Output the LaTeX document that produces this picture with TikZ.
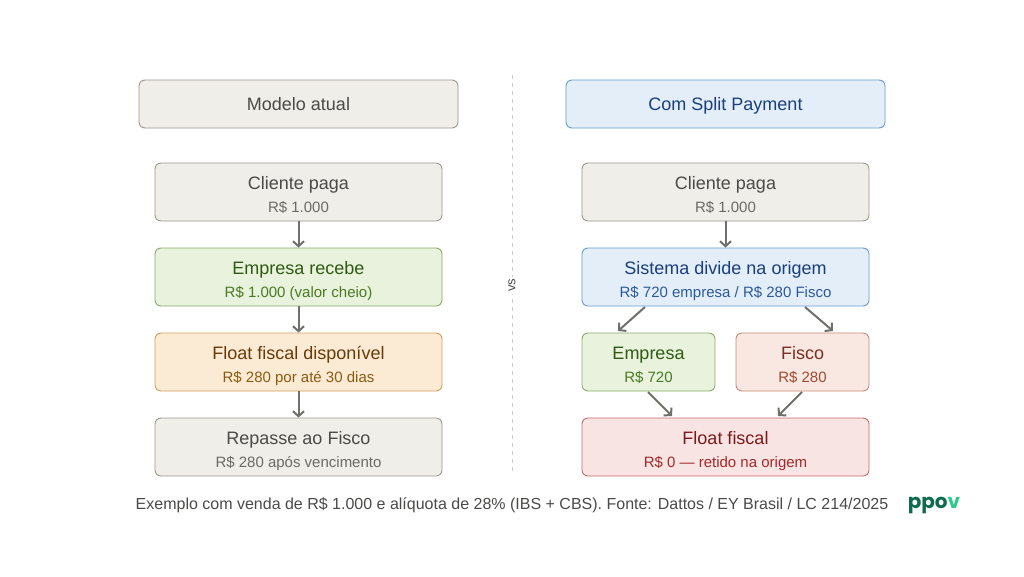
\documentclass[tikz,border=0pt]{standalone}
\usepackage{fontspec}
\usetikzlibrary{arrows.meta}
\setmainfont{Liberation Sans}
\newfontfamily\logofont{Poppins}
\definecolor{gfill}{HTML}{F0EEE8}\definecolor{gdraw}{HTML}{9A9890}\definecolor{gtext}{HTML}{4A4A48}\definecolor{gsub}{HTML}{6A6A66}
\definecolor{grfill}{HTML}{E8F2DC}\definecolor{grdraw}{HTML}{8AAA6A}\definecolor{grtext}{HTML}{2F5A12}\definecolor{grsub}{HTML}{4A7A22}
\definecolor{ofill}{HTML}{FBEBD5}\definecolor{odraw}{HTML}{D0A060}\definecolor{otext}{HTML}{6A3A06}\definecolor{osub}{HTML}{8A5A12}
\definecolor{bfill}{HTML}{E3EEF9}\definecolor{bdraw}{HTML}{6A9AD0}\definecolor{btext}{HTML}{1A3F7A}\definecolor{bsub}{HTML}{2A5A9A}
\definecolor{rfill}{HTML}{F9E8E2}\definecolor{rdraw}{HTML}{C88A78}\definecolor{rtext}{HTML}{7A3020}\definecolor{rsub}{HTML}{A04A30}
\definecolor{ffill}{HTML}{F9E4E4}\definecolor{fdraw}{HTML}{C86A6A}\definecolor{ftext}{HTML}{7A1A1A}\definecolor{fsub}{HTML}{A02A2A}
\definecolor{arr}{HTML}{6F6F6B}
\begin{document}
\begin{tikzpicture}[x=1pt,y=-1pt,
 box/.style={rounded corners=6pt,line width=0.9pt,inner sep=0pt,align=center},
 arrow/.style={draw=arr,line width=2pt,-{Straight Barb[length=5pt,width=11pt]}},
 t/.style={font=\fontsize{18}{21}\selectfont,anchor=base,inner sep=0pt},
 s/.style={font=\fontsize{15}{18}\selectfont,anchor=base,inner sep=0pt}]
\useasboundingbox (0,0) rectangle (1024,576);
\fill[white] (0,0) rectangle (1024,576);
\newcommand\bx[8]{% name, x1,y1,x2,y2, fill, draw, style
 \node[box,fill=#6,draw=#7,minimum width={#4-#2},minimum height={#5-#3}] (#1) at ({(#2+#4)/2},{(#3+#5)/2}) {};}
% headers
\bx{hl}{139}{80}{458}{128}{gfill}{gdraw}{}
\node[t,text=gtext] (hlt) at (298.5,110.5) {Modelo atual};
\bx{hr}{566}{80}{885}{128}{bfill}{bdraw}{}
\node[t,text=btext] (hrt) at (725.5,110.5) {Com Split Payment};
% left column
\bx{l1}{155}{163}{442}{221}{gfill}{gdraw}{}
\node[t,text=gtext] (l1a) at (298.5,189.5) {Cliente paga};
\node[s,text=gsub] (l1b) at (298.5,212.5) {R\$ 1.000};
\bx{l2}{155}{248}{442}{306}{grfill}{grdraw}{}
\node[t,text=grtext] (l2a) at (298.5,274.5) {Empresa recebe};
\node[s,text=grsub] (l2b) at (298.5,297.5) {R\$ 1.000 (valor cheio)};
\bx{l3}{155}{333}{442}{391}{ofill}{odraw}{}
\node[t,text=otext] (l3a) at (298.5,359.5) {Float fiscal disponível};
\node[s,text=osub] (l3b) at (298.5,382.5) {R\$ 280 por até 30 dias};
\bx{l4}{155}{418}{442}{476}{gfill}{gdraw}{}
\node[t,text=gtext] (l4a) at (298.5,444.5) {Repasse ao Fisco};
\node[s,text=gsub] (l4b) at (298.5,467.5) {R\$ 280 após vencimento};
\draw[arrow] (l1.south) -- (l2.north);
\draw[arrow] (l2.south) -- (l3.north);
\draw[arrow] (l3.south) -- (l4.north);
% right column
\bx{r1}{582}{163}{869}{221}{gfill}{gdraw}{}
\node[t,text=gtext] (r1a) at (725.5,189.5) {Cliente paga};
\node[s,text=gsub] (r1b) at (725.5,212.5) {R\$ 1.000};
\bx{r2}{582}{248}{869}{306}{bfill}{bdraw}{}
\node[t,text=btext] (r2a) at (725.5,274.5) {Sistema divide na origem};
\node[s,text=bsub] (r2b) at (725.5,297.5) {R\$ 720 empresa / R\$ 280 Fisco};
\bx{re}{582}{333}{715}{391}{grfill}{grdraw}{}
\node[t,text=grtext] (rea) at (648.5,359.5) {Empresa};
\node[s,text=grsub] (reb) at (648.5,382.5) {R\$ 720};
\bx{rf}{736}{333}{869}{391}{rfill}{rdraw}{}
\node[t,text=rtext] (rfa) at (802.5,359.5) {Fisco};
\node[s,text=rsub] (rfb) at (802.5,382.5) {R\$ 280};
\bx{r4}{582}{418}{869}{476}{ffill}{fdraw}{}
\node[t,text=ftext] (r4a) at (725.5,444.5) {Float fiscal};
\node[s,text=fsub] (r4b) at (725.5,467.5) {R\$ 0 — retido na origem};
\draw[arrow] (r1.south) -- (r2.north);
\coordinate (s1) at (645,307); \coordinate (s2) at (805,307);
\coordinate (e1) at (618,331); \coordinate (e2) at (833,331);
\draw[arrow] (s1) -- (e1);
\draw[arrow] (s2) -- (e2);
\coordinate (s3) at (648,392); \coordinate (s4) at (802,392);
\coordinate (e3) at (672,416); \coordinate (e4) at (778,416);
\draw[arrow] (s3) -- (e3);
\draw[arrow] (s4) -- (e4);
% divider
\coordinate (d1) at (512,75); \coordinate (d2) at (512,475);
\draw[gdraw!50,line width=0.6pt,dash pattern=on 4pt off 4pt] (d1) -- (d2);
\node[fill=white,inner sep=2pt,rotate=90,font=\fontsize{13}{15}\selectfont,text=gtext] (vs) at (512,285) {vs};
% caption
\node[font=\fontsize{16}{19}\selectfont,text=gtext,anchor=base,inner sep=0pt] (cap) at (512,509.5) {Exemplo com venda de R\$ 1.000 e alíquota de 28\% (IBS + CBS). Fonte: Dattos / EY Brasil / LC 214/2025};
\node[font=\logofont\bfseries\fontsize{20}{22}\selectfont] (logo) at (934,505) {\textcolor[HTML]{0F6B4F}{ppo}\textcolor[HTML]{2FC98A}{v}};
\end{tikzpicture}
\end{document}
